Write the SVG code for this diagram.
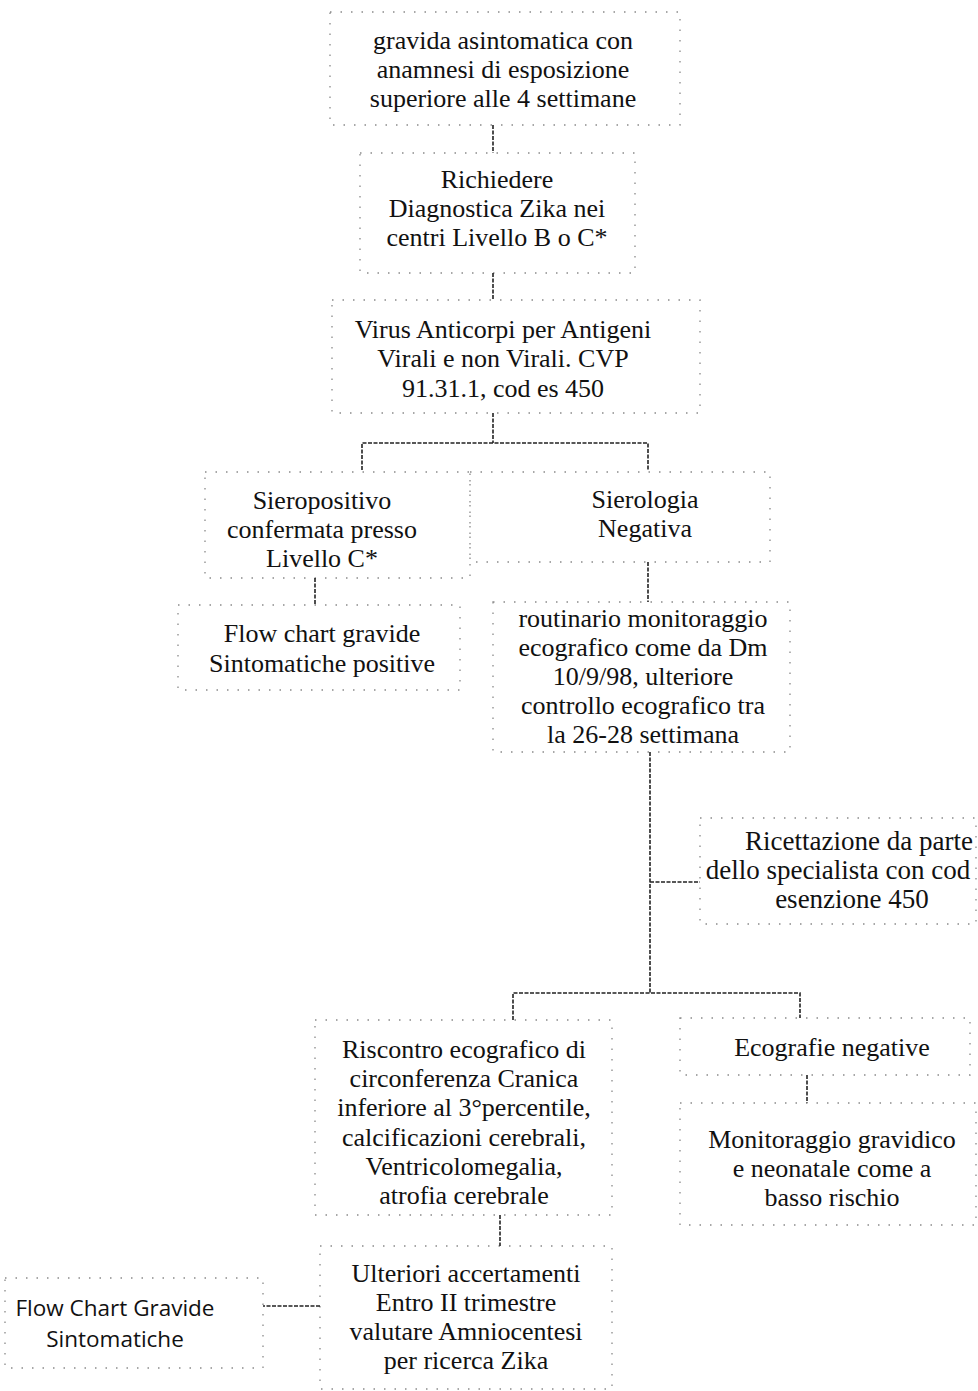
<svg xmlns="http://www.w3.org/2000/svg" width="978" height="1391" viewBox="0 0 978 1391">
<style>
.bx{fill:none;stroke:#8a8a8a;stroke-width:1.3;stroke-dasharray:1.5 9}
.t{font-family:"Liberation Serif","Times New Roman",serif;font-size:26px;fill:#111;text-anchor:middle}
.s{font-family:"Open Sans","Liberation Sans",sans-serif;font-size:22.5px;fill:#111;text-anchor:middle}
.c{fill:none;stroke:#222;stroke-width:1.6;stroke-dasharray:4 1.5}
</style>
<rect width="978" height="1391" fill="#fff"/>
<g id="n1"><rect class="bx" x="330" y="12" width="350" height="113"/>
<text class="t" x="503" y="49">gravida asintomatica con</text>
<text class="t" x="503" y="78">anamnesi di esposizione</text>
<text class="t" x="503" y="107">superiore alle 4 settimane</text></g>
<g id="n2"><rect class="bx" x="360" y="153" width="275" height="120"/>
<text class="t" x="497" y="188">Richiedere</text>
<text class="t" x="497" y="217">Diagnostica Zika nei</text>
<text class="t" x="497" y="246">centri Livello B o C*</text></g>
<g id="n3"><rect class="bx" x="332" y="300" width="368" height="113"/>
<text class="t" x="503" y="338">Virus Anticorpi per Antigeni</text>
<text class="t" x="503" y="367">Virali e non Virali. CVP</text>
<text class="t" x="503" y="397">91.31.1, cod es 450</text></g>
<g id="n4"><rect class="bx" x="205" y="472" width="265" height="106"/>
<text class="t" x="322" y="509">Sieropositivo</text>
<text class="t" x="322" y="538">confermata presso</text>
<text class="t" x="322" y="567">Livello C*</text></g>
<g id="n5"><rect class="bx" x="178" y="605" width="282" height="85"/>
<text class="t" x="322" y="642">Flow chart gravide</text>
<text class="t" x="322" y="672">Sintomatiche positive</text></g>
<g id="n6"><rect class="bx" x="470" y="472" width="300" height="90"/>
<text class="t" x="645" y="508">Sierologia</text>
<text class="t" x="645" y="537">Negativa</text></g>
<g id="n7"><rect class="bx" x="493" y="602" width="297" height="150"/>
<text class="t" x="643" y="627">routinario monitoraggio</text>
<text class="t" x="643" y="656">ecografico come da Dm</text>
<text class="t" x="643" y="685">10/9/98, ulteriore</text>
<text class="t" x="643" y="714">controllo ecografico tra</text>
<text class="t" x="643" y="743">la 26-28 settimana</text></g>
<g id="n8"><rect class="bx" x="700" y="818" width="276" height="106"/>
<text class="t" x="859" y="850" style="font-size:27px">Ricettazione da parte</text>
<text class="t" x="838" y="879" style="font-size:27px">dello specialista con cod</text>
<text class="t" x="852" y="908" style="font-size:27px">esenzione 450</text></g>
<g id="n9"><rect class="bx" x="315" y="1020" width="297" height="195"/>
<text class="t" x="464" y="1058">Riscontro ecografico di</text>
<text class="t" x="464" y="1087">circonferenza Cranica</text>
<text class="t" x="464" y="1116">inferiore al 3°percentile,</text>
<text class="t" x="464" y="1146">calcificazioni cerebrali,</text>
<text class="t" x="464" y="1175">Ventricolomegalia,</text>
<text class="t" x="464" y="1204">atrofia cerebrale</text></g>
<g id="n10"><rect class="bx" x="680" y="1018" width="290" height="57"/>
<text class="t" x="832" y="1056">Ecografie negative</text></g>
<g id="n11"><rect class="bx" x="680" y="1103" width="296" height="122"/>
<text class="t" x="832" y="1148">Monitoraggio gravidico</text>
<text class="t" x="832" y="1177">e neonatale come a</text>
<text class="t" x="832" y="1206">basso rischio</text></g>
<g id="n12"><rect class="bx" x="320" y="1246" width="292" height="143"/>
<text class="t" x="466" y="1282">Ulteriori accertamenti</text>
<text class="t" x="466" y="1311">Entro II trimestre</text>
<text class="t" x="466" y="1340">valutare Amniocentesi</text>
<text class="t" x="466" y="1369">per ricerca Zika</text></g>
<g id="n13"><rect class="bx" x="5" y="1278" width="258" height="90"/>
<text class="s" x="115" y="1316">Flow Chart Gravide</text>
<text class="s" x="115" y="1347">Sintomatiche</text></g>
<g id="connectors">
<path class="c" d="M493 125V153"/>
<path class="c" d="M493 273V300"/>
<path class="c" d="M493 413V443M362 470V443H648V470"/>
<path class="c" d="M315 578V605"/>
<path class="c" d="M648 562V602"/>
<path class="c" d="M650 752V993M650 882H700"/>
<path class="c" d="M513 1020V993H800V1018"/>
<path class="c" d="M807 1075V1103"/>
<path class="c" d="M500 1215V1246"/>
<path class="c" d="M320 1306H263"/>
</g>
</svg>
